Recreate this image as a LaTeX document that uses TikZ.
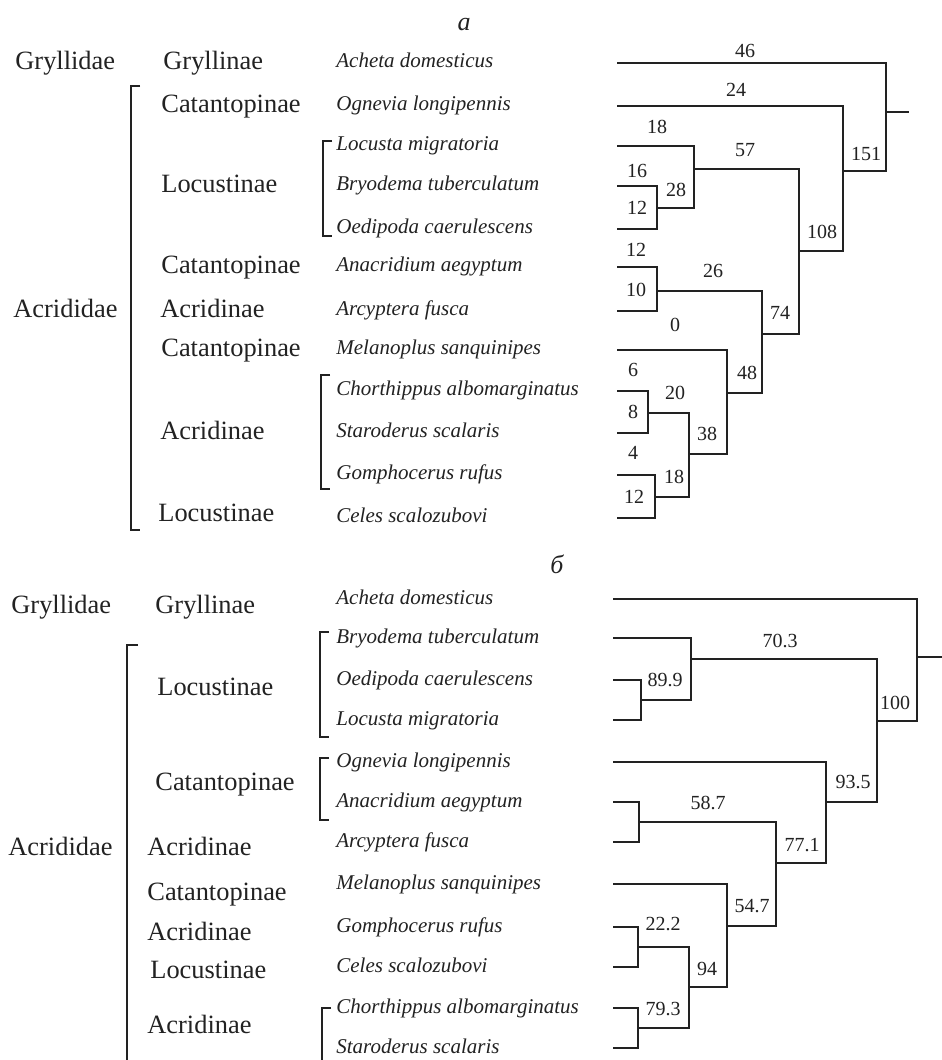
\documentclass[tikz,border=0pt]{standalone}
\usepackage{fontspec}
\setmainfont{Liberation Serif}
\definecolor{ink}{HTML}{222222}
\begin{document}
\begin{tikzpicture}[x=0.5pt,y=-0.5pt,
  edge/.style={line width=0.95pt, draw=ink},
  brk/.style={line width=0.95pt, draw=ink},
  fam/.style={anchor=base west, font=\fontsize{13.2}{15}\selectfont, text=ink, inner sep=0pt},
  sp/.style={anchor=base west, font=\fontsize{10.5}{12}\selectfont\itshape, text=ink, inner sep=0pt},
  num/.style={font=\fontsize{10}{12}\selectfont, text=ink, inner sep=0pt},
  ttl/.style={anchor=base, font=\fontsize{13}{15}\selectfont\itshape, text=ink, inner sep=0pt}]
\useasboundingbox[fill=white] (0,0) rectangle (942,1060);

% ================= panel a =================
\node[ttl] (ta) at (464,30) {a};
% families
\node[fam] (fa1) at (15,69) {Gryllidae};
\node[fam] (fa2) at (163,69) {Gryllinae};
\node[fam] (fa3) at (161,112) {Catantopinae};
\node[fam] (fa4) at (161,192) {Locustinae};
\node[fam] (fa5) at (161,273) {Catantopinae};
\node[fam] (fa6) at (13,317) {Acrididae};
\node[fam] (fa7) at (160,317) {Acridinae};
\node[fam] (fa8) at (161,356) {Catantopinae};
\node[fam] (fa9) at (160,439) {Acridinae};
\node[fam] (fa10) at (158,521) {Locustinae};
% species
\node[sp] (sa1) at (336,67) {Acheta domesticus};
\node[sp] (sa2) at (336,110) {Ognevia longipennis};
\node[sp] (sa3) at (336,150) {Locusta migratoria};
\node[sp] (sa4) at (336,190) {Bryodema tuberculatum};
\node[sp] (sa5) at (336,233) {Oedipoda caerulescens};
\node[sp] (sa6) at (336,271) {Anacridium aegyptum};
\node[sp] (sa7) at (336,315) {Arcyptera fusca};
\node[sp] (sa8) at (336,354) {Melanoplus sanquinipes};
\node[sp] (sa9) at (336,395) {Chorthippus albomarginatus};
\node[sp] (sa10) at (336,437) {Staroderus scalaris};
\node[sp] (sa11) at (336,479) {Gomphocerus rufus};
\node[sp] (sa12) at (336,522) {Celes scalozubovi};
% brackets
\draw[brk] (140,86) -- (131,86) -- (131,530) -- (140,530);
\draw[brk] (332,141) -- (323,141) -- (323,236) -- (332,236);
\draw[brk] (330,375) -- (321,375) -- (321,489) -- (330,489);

% tree a: leaves
\coordinate (la1) at (617,63);
\coordinate (la2) at (617,106);
\coordinate (la3) at (617,146);
\coordinate (la4) at (617,186);
\coordinate (la5) at (617,229);
\coordinate (la6) at (617,267);
\coordinate (la7) at (617,311);
\coordinate (la8) at (617,350);
\coordinate (la9) at (617,391);
\coordinate (la10) at (617,433);
\coordinate (la11) at (617,475);
\coordinate (la12) at (617,518);
% internal nodes
\coordinate (n28) at (657,208);
\coordinate (n57) at (694,169);
\coordinate (n26) at (657,291);
\coordinate (n20) at (648,413);
\coordinate (n18) at (655,497);
\coordinate (n38) at (689,454);
\coordinate (n48) at (727,393);
\coordinate (n74) at (762,334);
\coordinate (n108) at (799,251);
\coordinate (n151) at (843,171);
\coordinate (rta) at (886,112);
\coordinate (rta0) at (909,112);
\draw[edge] (la4) -| (n28) |- (la5);
\draw[edge] (la3) -| (n57) |- (n28);
\draw[edge] (la6) -| (n26) |- (la7);
\draw[edge] (la9) -| (n20) |- (la10);
\draw[edge] (la11) -| (n18) |- (la12);
\draw[edge] (n20) -| (n38) |- (n18);
\draw[edge] (la8) -| (n48) |- (n38);
\draw[edge] (n26) -| (n74) |- (n48);
\draw[edge] (n57) -| (n108) |- (n74);
\draw[edge] (la2) -| (n151) |- (n108);
\draw[edge] (la1) -| (rta) |- (n151);
\draw[edge] (rta) -- (rta0);
% labels a
\node[num] at (745,51) {46};
\node[num] at (736,90) {24};
\node[num] at (657,127) {18};
\node[num] at (637,171) {16};
\node[num] at (637,208) {12};
\node[num] at (676,190) {28};
\node[num] at (745,150) {57};
\node[num] at (822,232) {108};
\node[num] at (866,154) {151};
\node[num] at (636,250) {12};
\node[num] at (636,290) {10};
\node[num] at (713,271) {26};
\node[num] at (780,313) {74};
\node[num] at (675,325) {0};
\node[num] at (747,373) {48};
\node[num] at (633,370) {6};
\node[num] at (633,412) {8};
\node[num] at (675,393) {20};
\node[num] at (707,434) {38};
\node[num] at (633,453) {4};
\node[num] at (634,497) {12};
\node[num] at (674,477) {18};

% ================= panel b =================
\node[ttl] (tb) at (557,573) {б};
\node[fam] (fb1) at (11,613) {Gryllidae};
\node[fam] (fb2) at (155,613) {Gryllinae};
\node[fam] (fb3) at (157,695) {Locustinae};
\node[fam] (fb4) at (155,790) {Catantopinae};
\node[fam] (fb5) at (8,855) {Acrididae};
\node[fam] (fb6) at (147,855) {Acridinae};
\node[fam] (fb7) at (147,900) {Catantopinae};
\node[fam] (fb8) at (147,940) {Acridinae};
\node[fam] (fb9) at (150,978) {Locustinae};
\node[fam] (fb10) at (147,1033) {Acridinae};
\node[sp] (sb1) at (336,604) {Acheta domesticus};
\node[sp] (sb2) at (336,643) {Bryodema tuberculatum};
\node[sp] (sb3) at (336,685) {Oedipoda caerulescens};
\node[sp] (sb4) at (336,725) {Locusta migratoria};
\node[sp] (sb5) at (336,767) {Ognevia longipennis};
\node[sp] (sb6) at (336,807) {Anacridium aegyptum};
\node[sp] (sb7) at (336,847) {Arcyptera fusca};
\node[sp] (sb8) at (336,889) {Melanoplus sanquinipes};
\node[sp] (sb9) at (336,932) {Gomphocerus rufus};
\node[sp] (sb10) at (336,972) {Celes scalozubovi};
\node[sp] (sb11) at (336,1013) {Chorthippus albomarginatus};
\node[sp] (sb12) at (336,1053) {Staroderus scalaris};
\draw[brk] (138,645) -- (127,645) -- (127,1070);
\draw[brk] (329,632) -- (320,632) -- (320,737) -- (329,737);
\draw[brk] (329,758) -- (320,758) -- (320,820) -- (329,820);
\draw[brk] (331,1008) -- (322,1008) -- (322,1070);

\coordinate (lb1) at (613,599);
\coordinate (lb2) at (613,638);
\coordinate (lb3) at (613,680);
\coordinate (lb4) at (613,720);
\coordinate (lb5) at (613,762);
\coordinate (lb6) at (613,802);
\coordinate (lb7) at (613,842);
\coordinate (lb8) at (613,884);
\coordinate (lb9) at (613,927);
\coordinate (lb10) at (613,967);
\coordinate (lb11) at (613,1008);
\coordinate (lb12) at (613,1048);
\coordinate (m899) at (641,700);
\coordinate (m703) at (691,659);
\coordinate (m587) at (639,822);
\coordinate (m222) at (638,947);
\coordinate (m793) at (638,1028);
\coordinate (m94) at (689,987);
\coordinate (m547) at (727,926);
\coordinate (m771) at (776,863);
\coordinate (m935) at (826,802);
\coordinate (m100) at (877,721);
\coordinate (rtb) at (917,657);
\coordinate (rtb0) at (945,657);
\draw[edge] (lb3) -| (m899) |- (lb4);
\draw[edge] (lb2) -| (m703) |- (m899);
\draw[edge] (lb6) -| (m587) |- (lb7);
\draw[edge] (lb9) -| (m222) |- (lb10);
\draw[edge] (lb11) -| (m793) |- (lb12);
\draw[edge] (m222) -| (m94) |- (m793);
\draw[edge] (lb8) -| (m547) |- (m94);
\draw[edge] (m587) -| (m771) |- (m547);
\draw[edge] (lb5) -| (m935) |- (m771);
\draw[edge] (m703) -| (m100) |- (m935);
\draw[edge] (lb1) -| (rtb) |- (m100);
\draw[edge] (rtb) -- (rtb0);
\node[num] at (780,641) {70.3};
\node[num] at (665,680) {89.9};
\node[num] at (895,703) {100};
\node[num] at (853,782) {93.5};
\node[num] at (708,803) {58.7};
\node[num] at (802,845) {77.1};
\node[num] at (752,906) {54.7};
\node[num] at (663,924) {22.2};
\node[num] at (707,969) {94};
\node[num] at (663,1009) {79.3};
\end{tikzpicture}
\end{document}
